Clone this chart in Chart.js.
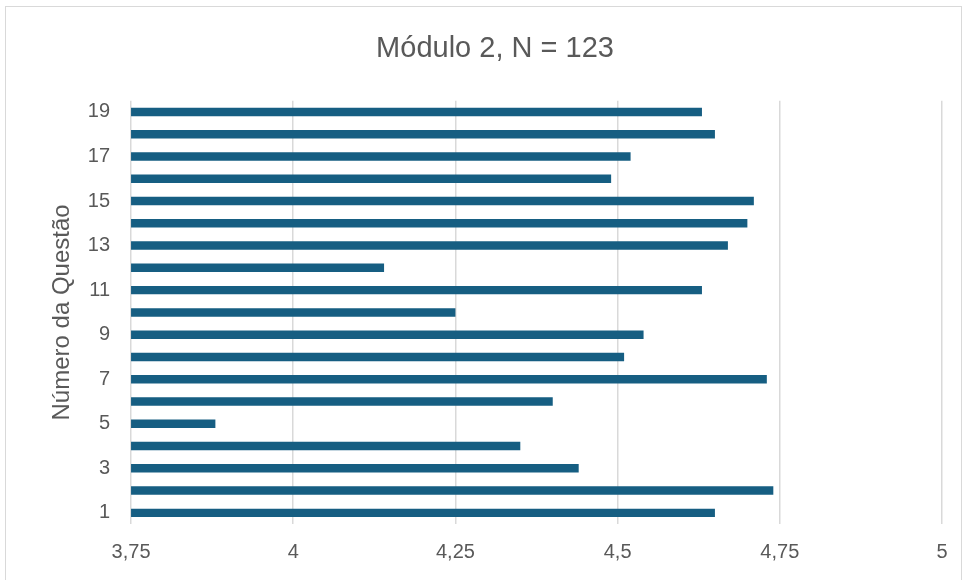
<!DOCTYPE html>
<html>
<head>
<meta charset="utf-8">
<script src="https://cdn.jsdelivr.net/npm/chart.js@4/dist/chart.umd.min.js"></script>
<style>
  html, body { margin: 0; padding: 0; background: #fff; }
  #wrap { position: relative; width: 968px; height: 580px; }
  #frame { position: absolute; left: 5px; top: 6px; width: 957px; height: 580px; border: 1px solid #d9d9d9; box-sizing: border-box; }
  canvas { position: absolute; left: 0; top: 0; }
</style>
</head>
<body>
<div id="wrap">
  <div id="frame"></div>
  <canvas id="chart" width="968" height="580"></canvas>
</div>
<script>
// Question numbers and mean scores (Módulo 2, N = 123)
const questions = ["1","2","3","4","5","6","7","8","9","10","11","12","13","14","15","16","17","18","19"];
const means = [4.65, 4.74, 4.44, 4.35, 3.88, 4.40, 4.73, 4.51, 4.54, 4.25, 4.63, 4.14, 4.67, 4.70, 4.71, 4.49, 4.52, 4.65, 4.63];
const xMin = 3.75, xMax = 5, xStep = 0.25;

const grey = "#595959";
const font = "'Liberation Sans', Arial, sans-serif";

const ctx = document.getElementById("chart").getContext("2d");
new Chart(ctx, {
  type: "bar",
  data: {
    labels: questions,
    datasets: [{
      data: means,
      backgroundColor: "#165e82",
      borderWidth: 0,
      barPercentage: 0.38,
      categoryPercentage: 1
    }]
  },
  options: {
    indexAxis: "y",
    responsive: false,
    animation: false,
    layout: { padding: { left: 48, right: 26, top: 20, bottom: 0 } },
    plugins: {
      legend: { display: false },
      tooltip: { enabled: false },
      title: {
        display: true,
        text: "Módulo 2, N = 123",
        color: grey,
        font: { family: font, size: 29, weight: "normal" },
        padding: { top: 12, bottom: 34 }
      }
    },
    scales: {
      x: {
        min: xMin,
        max: xMax,
        ticks: {
          stepSize: xStep,
          color: grey,
          font: { family: font, size: 20 },
          padding: 16,
          callback: v => String(v).replace(".", ",")
        },
        grid: { color: "#d9d9d9", lineWidth: 1.5, drawTicks: false },
        border: { display: false }
      },
      y: {
        reverse: true,
        ticks: {
          autoSkip: false,
          color: grey,
          font: { family: font, size: 20 },
          padding: 21,
          callback: function (v, i) { return i % 2 === 0 ? questions[i] : ""; }
        },
        grid: { display: false, drawTicks: false },
        border: { display: false },
        title: {
          display: true,
          text: "Número da Questão",
          color: grey,
          font: { family: font, size: 24 },
          padding: { top: 0, bottom: -10 }
        }
      }
    }
  }
});
</script>
</body>
</html>
